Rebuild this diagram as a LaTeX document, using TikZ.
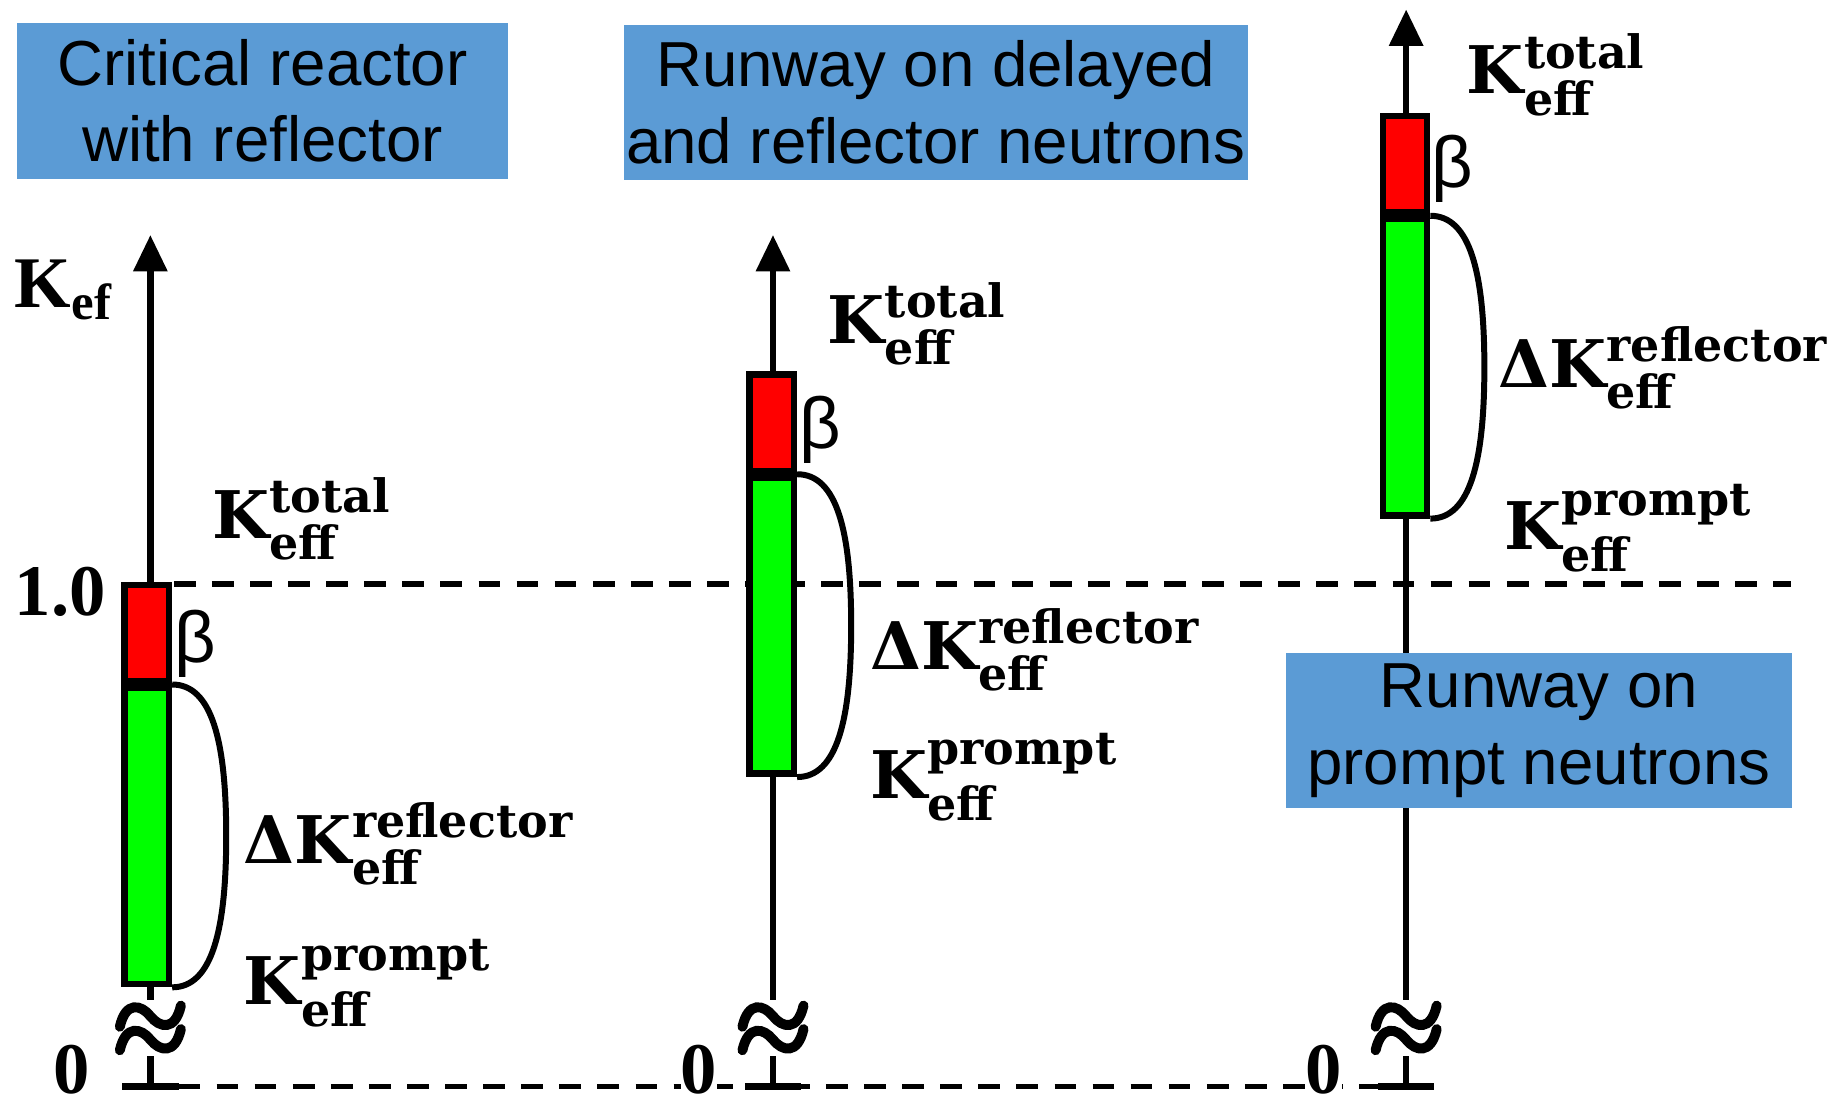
\documentclass[tikz,border=0pt]{standalone}
\usepackage{fontspec}
\usepackage{amsmath}
\setmainfont{Liberation Serif}
\newfontfamily\titlefont{Liberation Sans}
\newfontfamily\labfont{DejaVu Serif}
\usetikzlibrary{arrows.meta,calc}
\definecolor{boxblue}{HTML}{5B9BD5}
\definecolor{barred}{HTML}{FF0000}
\definecolor{bargreen}{HTML}{00FF00}

\tikzset{
  titlebox/.style={fill=boxblue, inner sep=0pt, minimum height=1.32cm, align=center,
    font=\titlefont\fontsize{15.4}{18.5}\selectfont},
  axisline/.style={line width=1.6pt, -{Triangle[length=0.31cm,width=0.28cm]}},
  basebar/.style={line width=1.75pt},
  levelline/.style={line width=1.35pt, dash pattern=on 0.185cm off 0.139cm},
  barbox/.style={draw=black, line width=1.6pt, minimum width=0.375cm, inner sep=0pt},
  bracket/.style={line width=1.45pt},
  klab/.style={anchor=base west, inner sep=0pt, font=\labfont\bfseries\fontsize{15.9}{18}\selectfont},
  betalab/.style={anchor=west, inner sep=0pt, font=\titlefont\fontsize{17.5}{20}\selectfont},
  ticklab/.style={inner sep=0pt, font=\bfseries\fontsize{17.6}{20}\selectfont},
  zerolab/.style={anchor=base, fill=white, inner sep=0pt, font=\bfseries\fontsize{17.6}{20}\selectfont},
  pics/axisbreak/.style={code={
    \fill[white] (-30,-24) rectangle (30,24);
    \foreach \yc in {-10,10}{
      \draw[line width=2.4pt, line cap=round]
        (-26,\yc+9) .. controls (-21,\yc-13) and (-8,\yc-10) .. (0,\yc)
        .. controls (8,\yc+10) and (21,\yc+13) .. (26,\yc-9);
    }
  }}
}

\begin{document}
\begin{tikzpicture}[x=0.01cm, y=-0.01cm]
\useasboundingbox (0,0) rectangle (1568,944);

% reference levels k = 1.0 and k = 0
\coordinate (oneL) at (148,497);
\coordinate (oneR) at (1525,497);
\coordinate (zeroL) at (152,925);
\coordinate (zeroR) at (1175,925);
\draw[levelline] (oneL) -- (oneR);
\draw[levelline] (zeroL) -- (zeroR);

% the three k_eff axes
\foreach \n/\x/\top in {1/128/200, 2/658/200, 3/1197/8}{
  \coordinate (base\n) at (\x,925);
  \coordinate (tip\n) at (\x,\top);
  \coordinate (bl\n) at (\x-24,925);
  \coordinate (br\n) at (\x+24,925);
  \draw[axisline] (base\n) -- (tip\n);
  \draw[basebar] (bl\n) -- (br\n);
  \pic at (\x,875) {axisbreak};
}

% zero marks
\node[zerolab] (z1) at (61,931) {0};
\node[zerolab] (z2) at (595,931) {0};
\node[zerolab] (z3) at (1127,931) {0};

% axis name and the 1.0 level
\node[ticklab, anchor=base west] (kname) at (12,262) {K$_{\text{ef}}$};
\node[ticklab, anchor=base west] (one) at (12,524) {1.0};

% bars: delayed fraction (red) over prompt part (green)
\node[barbox, fill=barred, minimum height=0.82cm, anchor=north] (r1) at (125,495) {};
\node[barbox, fill=bargreen, minimum height=2.52cm, anchor=north] (g1) at (r1.south) {};
\node[barbox, fill=barred, minimum height=0.82cm, anchor=north] (r2) at (657,316) {};
\node[barbox, fill=bargreen, minimum height=2.52cm, anchor=north] (g2) at (r2.south) {};
\node[barbox, fill=barred, minimum height=0.82cm, anchor=north] (r3) at (1196,96) {};
\node[barbox, fill=bargreen, minimum height=2.52cm, anchor=north] (g3) at (r3.south) {};

% reflector contribution brackets
\foreach \n in {1,2,3}{
  \draw[bracket] (g\n.north east) .. controls ++(34,0) and ++(0,-80) .. ($(g\n.east)+(46,0)$)
    .. controls ++(0,80) and ++(34,0) .. (g\n.south east);
}

% beta labels
\node[betalab] (b1) at (148,548) {β};
\node[betalab] (b2) at (680,366) {β};
\node[betalab] (b3) at (1218,144) {β};

% k_eff labels
\node[klab] (kt1) at (180,458) {K$^{\text{total}}_{\text{eff}}$};
\node[klab] (kr1) at (207,735) {ΔK$^{\text{reflector}}_{\text{eff}}$};
\node[klab] (kp1) at (207,855) {K$^{\text{prompt}}_{\text{eff}}$};
\node[klab] (kt2) at (704,292) {K$^{\text{total}}_{\text{eff}}$};
\node[klab] (kr2) at (740,570) {ΔK$^{\text{reflector}}_{\text{eff}}$};
\node[klab] (kp2) at (740,680) {K$^{\text{prompt}}_{\text{eff}}$};
\node[klab] (kt3) at (1248,80) {K$^{\text{total}}_{\text{eff}}$};
\node[klab] (kr3) at (1275,330) {ΔK$^{\text{reflector}}_{\text{eff}}$};
\node[klab] (kp3) at (1280,468) {K$^{\text{prompt}}_{\text{eff}}$};

% titles
\node[titlebox, minimum width=4.17cm] (t1) at (223.5,86) {Critical reactor\\with reflector};
\node[titlebox, minimum width=5.31cm] (t2) at (796.5,87) {Runway on delayed\\and reflector neutrons};
\node[titlebox, minimum width=4.30cm] (t3) at (1310,622) {Runway on\\prompt neutrons};
\end{tikzpicture}
\end{document}
